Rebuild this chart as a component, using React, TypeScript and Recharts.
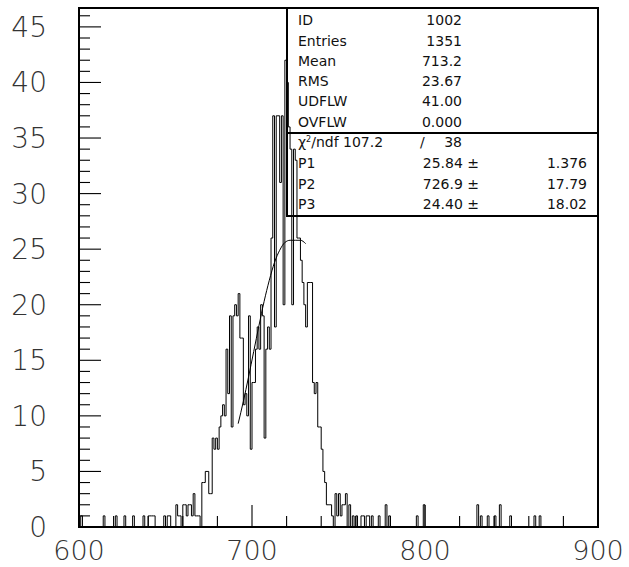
import React from 'react';
import { LineChart, Line, XAxis, YAxis, ReferenceArea } from 'recharts';

// Histogram: bin low edges 600..899, width 1; counts per bin
const binLow: number[] = Array.from({ length: 300 }, (_, i) => 600 + i);
const counts: number[] = [
  // 600-619
  0, 1, 0, 0, 0, 0, 0, 0, 0, 0, 0, 0, 0, 0, 1, 0, 0, 0, 0, 0,
  // 620-639
  0, 1, 0, 0, 0, 0, 1, 0, 0, 0, 0, 1, 0, 0, 0, 0, 0, 1, 0, 0,
  // 640-659
  1, 1, 1, 1, 0, 0, 0, 0, 0, 1, 0, 1, 1, 0, 0, 0, 2, 1, 1, 0,
  // 660-679
  2, 2, 1, 2, 2, 1, 3, 1, 1, 1, 0, 4, 4, 5, 5, 3, 3, 8, 7, 8,
  // 680-699
  7, 9, 10, 11, 10, 16, 12, 19, 9, 19, 20, 19, 21, 17, 17, 11, 12, 10, 19, 7,
  // 700-719
  13, 13, 16, 18, 16, 20, 19, 8, 16, 18, 16, 26, 37, 18, 37, 37, 31, 37, 20, 42,
  // 720-739
  40, 36, 34, 20, 34, 33, 26, 26, 24, 22, 20, 18, 22, 22, 22, 13, 12, 13, 9, 9,
  // 740-759
  7, 5, 4, 2, 2, 2, 1, 0, 3, 1, 3, 1, 2, 2, 3, 0, 2, 0, 1, 0,
  // 760-779
  1, 0, 0, 1, 1, 0, 1, 1, 0, 1, 0, 0, 0, 1, 0, 0, 0, 2, 0, 1,
  // 780-799
  0, 0, 0, 0, 0, 0, 0, 0, 0, 0, 0, 0, 0, 0, 0, 1, 0, 0, 0, 2,
  // 800-819
  0, 0, 0, 0, 0, 0, 0, 0, 0, 0, 0, 0, 0, 0, 0, 0, 0, 0, 0, 0,
  // 820-839
  0, 0, 0, 0, 0, 0, 0, 0, 0, 0, 2, 0, 1, 0, 0, 0, 1, 0, 0, 0,
  // 840-859
  1, 0, 0, 2, 0, 0, 0, 0, 0, 1, 0, 0, 0, 0, 0, 0, 0, 0, 0, 0,
  // 860-879
  0, 0, 0, 1, 0, 0, 1, 0, 0, 0, 0, 0, 0, 0, 0, 0, 0, 0, 0, 0,
  // 880-899
  0, 0, 0, 0, 0, 0, 0, 0, 0, 0, 0, 0, 0, 0, 0, 0, 0, 0, 0, 0,
];
const histEnd = 900;

// Fit curve points
const fitX: number[] = [692, 695, 698, 701, 704, 707, 710, 713, 716, 719, 722, 725, 728, 731];
const fitY: number[] = [9.3, 11.3, 13.5, 15.8, 18.1, 20.3, 22.2, 23.8, 24.9, 25.6, 25.8, 25.8, 25.8, 25.5];

// Axis ticks
const xTicks: number[] = [600, 620, 640, 660, 680, 700, 720, 740, 760, 780, 800, 820, 840, 860, 880, 900];
const xMajor: number[] = [600, 700, 800, 900];
const yTicks: number[] = [
  0, 1, 2, 3, 4, 5, 6, 7, 8, 9, 10, 11, 12, 13, 14, 15, 16, 17, 18, 19, 20, 21, 22, 23,
  24, 25, 26, 27, 28, 29, 30, 31, 32, 33, 34, 35, 36, 37, 38, 39, 40, 41, 42, 43, 44, 45, 46,
];
const yMajor: number[] = [0, 5, 10, 15, 20, 25, 30, 35, 40, 45];
const yMax = 46.7;

// Stats box text
const statLabels: string[] = ['ID', 'Entries', 'Mean', 'RMS', 'UDFLW', 'OVFLW'];
const statValues: string[] = ['1002', '1351', '713.2', '23.67', '41.00', '0.000'];
const chiValue = '107.2';
const ndfValue = '38';
const parNames: string[] = ['P1', 'P2', 'P3'];
const parValues: string[] = ['25.84', '726.9', '24.40'];
const parErrors: string[] = ['1.376', '17.79', '18.02'];

const histData = [...binLow.map((x, i) => ({ x, y: counts[i] })), { x: histEnd, y: 0 }];
const fitData = fitX.map((x, i) => ({ x, y: fitY[i] }));

const labelFont = "'DejaVu Sans', sans-serif";
const PLOT_BOTTOM = 527;
const PLOT_LEFT = 79;

const renderXTick = (props: any) => {
  const { x, payload } = props;
  const y = PLOT_BOTTOM;
  const v = payload.value;
  const major = xMajor.includes(v);
  return (
    <g key={'xt' + v}>
      <line x1={x} x2={x} y1={y} y2={y - (major ? 22 : 11)} stroke="#000" strokeWidth={1.1} />
      {major && (
        <text x={x} y={y + 33} textAnchor="middle" fontFamily={labelFont} fontSize={27} fontWeight={200} fill="#333">
          {v}
        </text>
      )}
    </g>
  );
};

const renderYTick = (props: any) => {
  const { y, payload } = props;
  const x = PLOT_LEFT;
  const v = payload.value;
  const major = yMajor.includes(v);
  return (
    <g key={'yt' + v}>
      <line x1={x} x2={x + (major ? 22 : 11)} y1={y} y2={y} stroke="#000" strokeWidth={1.1} />
      {major && (
        <text x={x - 32} y={y + 10} textAnchor="end" fontFamily={labelFont} fontSize={28} fontWeight={200} fill="#333">
          {v}
        </text>
      )}
    </g>
  );
};

const StatsBox = () => {
  const left = 287;
  const top = 8;
  const right = 598;
  const bottom = 216;
  const divider = 133;
  const rowY = [25, 45.5, 66, 86, 106, 126.5];
  const parY = [168, 189, 209];
  const fs = 14;
  const ff = "'DejaVu Sans', sans-serif";
  return (
    <svg width={629} height={567} style={{ position: 'absolute', left: 0, top: 0, pointerEvents: 'none' }}>
      <rect x={left} y={top} width={right - left} height={bottom - top} fill="none" stroke="#000" strokeWidth={2} />
      <line x1={left} x2={right} y1={divider} y2={divider} stroke="#000" strokeWidth={2} />
      <g fontFamily={ff} fontSize={fs} fill="#111">
        {statLabels.map((l, i) => (
          <text key={'l' + i} x={298} y={rowY[i]}>{l}</text>
        ))}
        {statValues.map((v, i) => (
          <text key={'v' + i} x={462} y={rowY[i]} textAnchor="end">{v}</text>
        ))}
        <text x={298} y={147}>
          χ<tspan dy={-5} fontSize={8}>2</tspan>
          <tspan dy={5}>/ndf {chiValue}</tspan>
        </text>
        <text x={420} y={147}>/</text>
        <text x={462} y={147} textAnchor="end">{ndfValue}</text>
        {parNames.map((p, i) => (
          <g key={'p' + i}>
            <text x={298} y={parY[i]}>{p}</text>
            <text x={479} y={parY[i]} textAnchor="end">{parValues[i]} ±</text>
            <text x={587} y={parY[i]} textAnchor="end">{parErrors[i]}</text>
          </g>
        ))}
      </g>
    </svg>
  );
};

export default function App() {
  return (
    <div style={{ position: 'absolute', left: 0, top: 0, width: 629, height: 567, background: '#fff' }}>
      <LineChart width={629} height={567} margin={{ top: 8, right: 31, bottom: 30, left: 69 }}>
        <XAxis
          type="number"
          dataKey="x"
          domain={[600, 900]}
          ticks={xTicks}
          interval={0}
          allowDataOverflow
          height={10}
          tickSize={0}
          tickMargin={0}
          axisLine={false}
          tickLine={false}
          tick={renderXTick}
        />
        <YAxis
          type="number"
          dataKey="y"
          domain={[0, yMax]}
          ticks={yTicks}
          interval={0}
          allowDataOverflow
          width={10}
          tickSize={0}
          tickMargin={0}
          axisLine={false}
          tickLine={false}
          tick={renderYTick}
        />
        <ReferenceArea x1={600} x2={900} y1={0} y2={yMax} fill="none" stroke="#000" strokeWidth={2} ifOverflow="visible" />
        <Line
          data={histData}
          dataKey="y"
          type="stepAfter"
          stroke="#000"
          strokeWidth={1}
          dot={false}
          activeDot={false}
          isAnimationActive={false}
        />
        <Line
          data={fitData}
          dataKey="y"
          type="monotone"
          stroke="#000"
          strokeWidth={1}
          dot={false}
          activeDot={false}
          isAnimationActive={false}
        />
      </LineChart>
      <StatsBox />
    </div>
  );
}
